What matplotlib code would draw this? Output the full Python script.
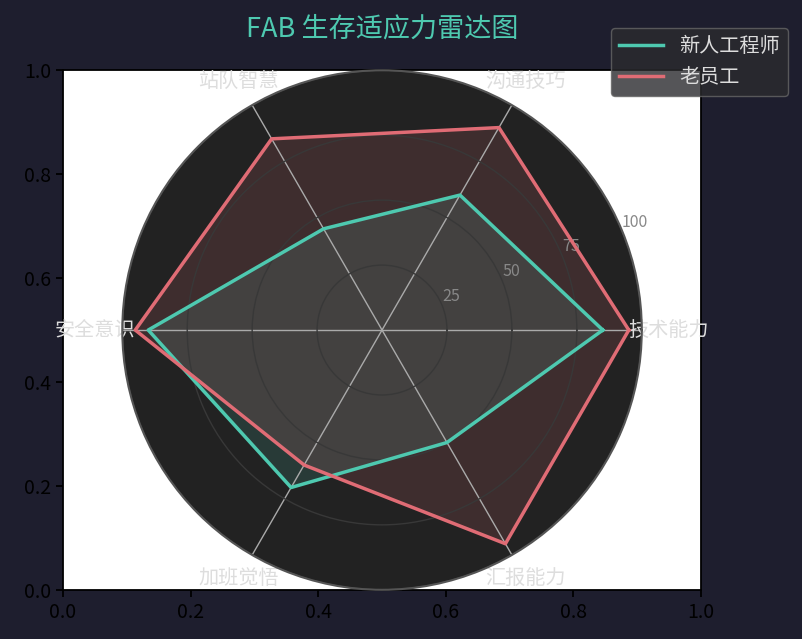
import numpy as np
import matplotlib
matplotlib.use('Agg')
import matplotlib.pyplot as plt

plt.rcParams['font.family'] = ['Noto Sans CJK SC', 'DejaVu Sans']
plt.rcParams['axes.unicode_minus'] = False

CATEGORIES = ['技术能力', '沟通技巧', '站队智慧', '安全意识', '加班觉悟', '汇报能力']
NEWBIE = [85, 60, 45, 90, 70, 50]
VETERAN = [95, 90, 85, 95, 60, 95]
SERIES = [('新人工程师', NEWBIE, '#4ec9b0'), ('老员工', VETERAN, '#e06c75')]
R_TICKS = [25, 50, 75, 100]

BG = '#1e1e2e'

fig = plt.figure(figsize=(8.02, 6.39), dpi=100, facecolor=BG)
rect = [0.0786, 0.077, 0.7955, 0.813]
ax = fig.add_axes(rect)
ax.tick_params(colors='black', labelsize=14, length=5, width=1.3)
for s in ax.spines.values():
    s.set_linewidth(1.3)

pax = fig.add_axes(rect, polar=True)
pax.set_facecolor('#222222')
angles = np.linspace(0, 2 * np.pi, len(CATEGORIES), endpoint=False)

for label, vals, color in SERIES:
    a = np.concatenate([angles, angles[:1]])
    v = np.concatenate([vals, vals[:1]])
    pax.fill(a, v, color=color, alpha=0.15)
    pax.plot(a, v, color=color, linewidth=2.5, label=label)

pax.set_ylim(0, 100)
pax.set_xticks(angles)
pax.set_xticklabels(CATEGORIES, color='#dddddd', fontsize=14.5)
pax.tick_params(axis='x', pad=9)
pax.set_yticks(R_TICKS)
pax.set_yticklabels([str(t) for t in R_TICKS], color='#888888', fontsize=11.5)
pax.set_rlabel_position(22.5)
pax.xaxis.grid(True, color='#aaaaaa', linewidth=1.0)
pax.yaxis.grid(True, color='#383838', linewidth=1.0)
pax.spines['polar'].set_color('#555555')
pax.spines['polar'].set_linewidth(1.5)

fig.text(0.477, 0.955, 'FAB 生存适应力雷达图', color='#4ec9b0', fontsize=19.5,
         ha='center', va='center')

leg = fig.legend(loc='upper right', bbox_to_anchor=(0.995, 0.972), fontsize=14.5,
                 facecolor='#2b2b2e', edgecolor='#666666', framealpha=0.8,
                 handlelength=2.2)
for t in leg.get_texts():
    t.set_color('#dddddd')

fig.savefig('out.png', dpi=100, facecolor=BG)
